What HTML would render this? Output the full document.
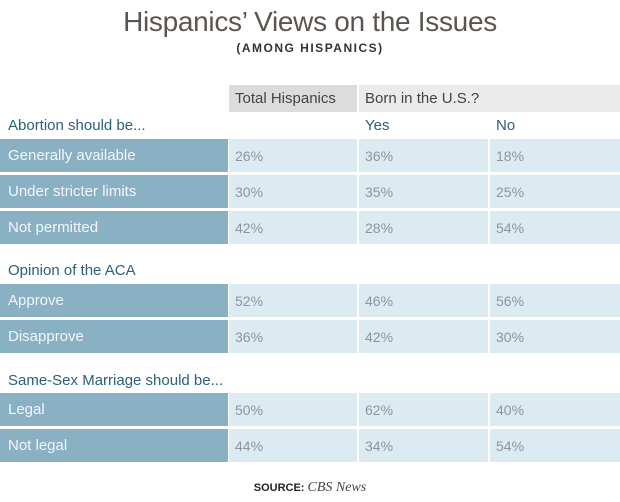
<!DOCTYPE html>
<html><head><meta charset="utf-8"><style>
body{margin:0;width:620px;height:502px;background:#fff;position:relative;overflow:hidden;font-family:"Liberation Sans",sans-serif}
div{position:absolute;box-sizing:border-box}
.t{left:0;width:620px;text-align:center}
.lab{left:0;width:228px;background:#8ab0c4;color:#f2f7fa;font-size:15px;padding-left:8px;display:flex;align-items:center}
.c{background:#dcebf1;color:#8a979d;font-size:14px;padding-left:6px;display:flex;align-items:center}
.sec{left:8px;color:#2b5f7a;font-size:15px}
.hd{font-size:15px;color:#444;padding-left:6px;display:flex;align-items:center}
</style></head><body>
<div class="t" style="top:6px;font-size:28px;color:#5a5550;letter-spacing:-0.3px">Hispanics’ Views on the Issues</div>
<div class="t" style="top:41px;font-size:12px;font-weight:bold;color:#333;letter-spacing:1.5px">(AMONG HISPANICS)</div>
<div class="hd" style="left:229px;top:85px;width:128px;height:27px;background:#dcdcdc">Total Hispanics</div>
<div class="hd" style="left:359px;top:85px;width:261px;height:27px;background:#ebebeb">Born in the U.S.?</div>
<div id="tbl" style="left:0;top:0;width:620px;height:502px"></div>
<div class="t" style="top:480px;font-size:11px;font-weight:bold;color:#222">SOURCE: <span style="font-family:'Liberation Serif',serif;font-style:italic;font-weight:normal;font-size:14px;color:#444">CBS News</span></div>
<script>
const sections=["Abortion should be...","Opinion of the ACA","Same-Sex Marriage should be..."];
const sectionTops=[117,262,372];
const rowLabels=[["Generally available","Under stricter limits","Not permitted"],[" Approve","Disapprove"],["Legal","Not legal"]];
const totalVals=[[26,30,42],[52,36],[50,44]];
const yesVals=[[36,35,28],[46,42],[62,34]];
const noVals=[[18,25,54],[56,30],[40,54]];
const rowStarts=[139,284,393];
const tbl=document.getElementById('tbl');
const colX=[229,359,490],colW=[128,129,130];
sections.forEach((s,i)=>{
  const d=document.createElement('div');d.className='sec';d.style.top=sectionTops[i]+'px';d.textContent=s;
  
  
  tbl.appendChild(d);
  if(i===0){['Yes','No'].forEach((t,k)=>{const h=document.createElement('div');h.className='sec';h.style.left=(colX[k+1]+6)+'px';h.style.top=sectionTops[0]+'px';h.textContent=t;
    
    
    tbl.appendChild(h);});}
  rowLabels[i].forEach((r,j)=>{
    const y=rowStarts[i]+j*36;
    const l=document.createElement('div');l.className='lab';l.style.top=y+'px';l.style.height='33px';l.textContent=r;
    
    
    tbl.appendChild(l);
    [totalVals,yesVals,noVals].forEach((arr,k)=>{
      const c=document.createElement('div');c.className='c';c.style.left=colX[k]+'px';c.style.width=colW[k]+'px';c.style.top=y+'px';c.style.height='33px';c.textContent=arr[i][j]+'%';
      
      
      tbl.appendChild(c);
    });
  });
});
</script>
</body></html>
